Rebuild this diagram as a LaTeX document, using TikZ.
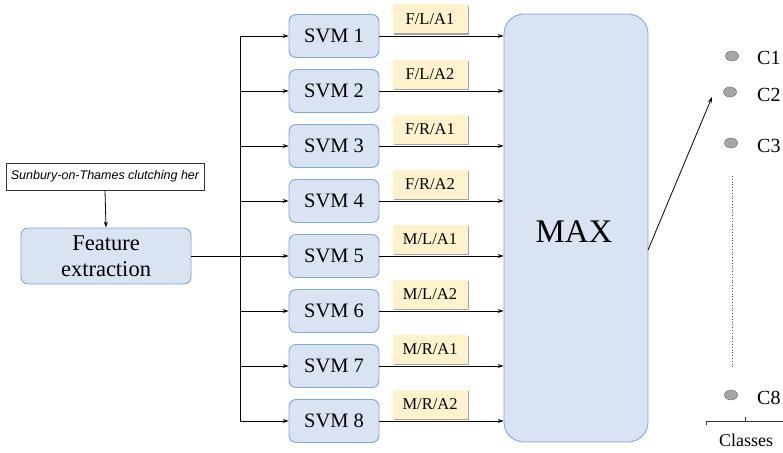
\documentclass[tikz,border=0pt]{standalone}
\usepackage{fontspec}
\setmainfont{Liberation Serif}
\newfontfamily\serif{Liberation Serif}
\newfontfamily\handfont{Liberation Sans}
\usetikzlibrary{arrows.meta,shadows,shapes.geometric}
\definecolor{boxfill}{HTML}{DAE3F2}
\definecolor{boxline}{HTML}{7FA7D8}
\definecolor{labfill}{HTML}{FFF2CC}
\begin{document}
\begin{tikzpicture}[x=1pt,y=-1pt,
  svmbox/.style={draw=boxline,fill=boxfill,rounded corners=7pt,line width=0.9pt,minimum width=90pt,minimum height=43pt,inner sep=0pt,font=\serif\fontsize{20.5}{22}\selectfont},
  labbox/.style={fill=labfill,minimum width=75pt,minimum height=29pt,inner sep=0pt,font=\serif\fontsize{16.5}{18}\selectfont,drop shadow={shadow xshift=1pt,shadow yshift=-1.5pt,fill=black!60,opacity=0.6}},
  arr/.style={-{Stealth[length=6pt,width=4pt]},line width=0.8pt},
  ln/.style={line width=0.8pt},
  cls/.style={ellipse,draw=black!60,fill=black!35,minimum width=13pt,minimum height=10pt,inner sep=0pt},
  clstxt/.style={font=\serif\fontsize{20}{22}\selectfont,anchor=west,inner sep=0pt}]
\useasboundingbox (0,0) rectangle (783,452);
\node[draw=black!80,line width=0.8pt,minimum width=198pt,minimum height=27pt,inner sep=0pt,font=\handfont\itshape\fontsize{12.5}{14}\selectfont] (hw) at (105,176.5) {Sunbury-on-Thames clutching her};
\node[svmbox,minimum width=170pt,minimum height=56pt,align=center,font=\serif\fontsize{22.5}{26}\selectfont] (fe) at (106,256) {Feature\\extraction};
\draw[arr] (hw.south) -- (fe.north);
\coordinate (br) at (240,256);
\draw[ln] (fe.east) -- (br);
\node[draw=boxline,fill=boxfill,rounded corners=20pt,line width=0.9pt,minimum width=144pt,minimum height=428pt,inner sep=0pt] (max) at (576,228) {};
\node[font=\serif\fontsize{33}{36}\selectfont] (maxt) at (574,232) {MAX};
\foreach \i/\y/\t in {1/36/{F/L/A1},2/91/{F/L/A2},3/146/{F/R/A1},4/201/{F/R/A2},5/256/{M/L/A1},6/311/{M/L/A2},7/366/{M/R/A1},8/421/{M/R/A2}}{
  \node[svmbox] (svm\i) at (334,\y) {SVM \i};
  \draw[arr] (br |- svm\i.west) -- (svm\i.west);
  \draw[arr] (svm\i.east) -- (svm\i.east -| max.west);
  \node[labbox] (lab\i) at (430,\y-17) {\t};
}
\draw[ln] (br |- svm1.west) -- (br |- svm8.west);
\node[cls] (c1) at (732,56) {};
\node[clstxt] (c1t) at (757,58) {C1};
\node[cls] (c2) at (730,92) {};
\node[clstxt] (c2t) at (757,95) {C2};
\node[cls] (c3) at (731,143) {};
\node[clstxt] (c3t) at (757,146) {C3};
\node[cls] (c8) at (731,395) {};
\node[clstxt] (c8t) at (757,398) {C8};
\coordinate (d1) at (732,176);
\coordinate (d2) at (732,367);
\draw[dotted,line width=0.8pt,black!70] (d1) -- (d2);
\coordinate (mo) at (648,250);
\coordinate (tip) at (712,97);
\draw[arr] (mo) -- (tip);
\coordinate (bl) at (706,421);
\coordinate (brr) at (783,421);
\coordinate (bm) at (745,421);
\draw[ln,black!80] ([yshift=-3.5pt]bl) -- (bl) -- (brr);
\draw[ln,black!80] (bm) -- ([yshift=4pt]bm);
\node[font=\serif\fontsize{18}{20}\selectfont,inner sep=0pt] (classes) at (746,440) {Classes};
\end{tikzpicture}
\end{document}
